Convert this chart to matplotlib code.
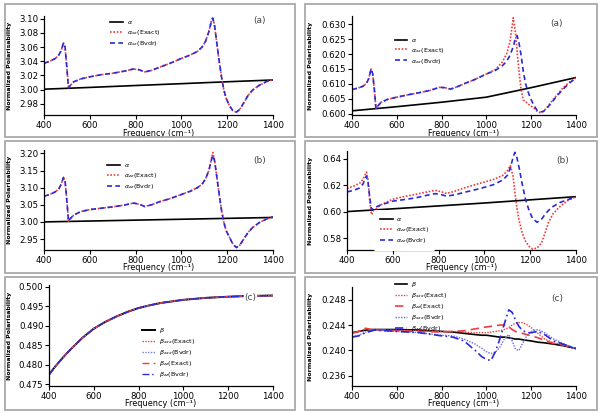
import matplotlib
matplotlib.use("Agg")
import matplotlib.pyplot as plt
from matplotlib.patches import Rectangle

# ---------------- data ----------------
x_lin = [400, 600, 800, 1000, 1200, 1400]

# panel (a) left : alpha_xx scale ~3.0
xa = [400, 425, 450, 465, 475, 485, 492, 500, 507, 515, 530, 560, 600, 650, 700, 750, 790, 815,
      840, 870, 900, 950, 1000, 1040, 1070, 1090, 1105, 1120, 1130, 1137, 1145, 1155, 1165, 1175,
      1185, 1195, 1210, 1225, 1240, 1255, 1270, 1290, 1310, 1340, 1370, 1400]
alpha_La = [3.0005, 3.003, 3.0057, 3.0083, 3.011, 3.0135]
axx_exact_La = [3.037, 3.040, 3.044, 3.049, 3.055, 3.066, 3.060, 3.030, 3.002, 3.006, 3.011, 3.015,
                3.018, 3.021, 3.023, 3.026, 3.029, 3.028, 3.025, 3.027, 3.031, 3.037, 3.044, 3.049,
                3.054, 3.060, 3.068, 3.082, 3.096, 3.102, 3.090, 3.065, 3.040, 3.018, 3.000, 2.988,
                2.977, 2.970, 2.968, 2.972, 2.980, 2.991, 2.999, 3.006, 3.011, 3.014]
axx_bvdr_La = [3.037, 3.040, 3.044, 3.049, 3.055, 3.066, 3.060, 3.030, 3.002, 3.006, 3.011, 3.015,
               3.018, 3.021, 3.023, 3.026, 3.029, 3.028, 3.025, 3.027, 3.031, 3.037, 3.044, 3.049,
               3.054, 3.060, 3.068, 3.082, 3.095, 3.101, 3.090, 3.065, 3.040, 3.018, 3.000, 2.988,
               2.977, 2.970, 2.968, 2.972, 2.980, 2.991, 2.999, 3.006, 3.011, 3.014]

# panel (b) left : alpha_zz scale ~3.0
alpha_Lb = [3.000, 3.0026, 3.0052, 3.0078, 3.0104, 3.013]
azz_exact_Lb = [3.075, 3.080, 3.088, 3.097, 3.110, 3.130, 3.120, 3.060, 3.002, 3.010, 3.020, 3.030,
                3.036, 3.040, 3.044, 3.049, 3.055, 3.052, 3.045, 3.050, 3.058, 3.068, 3.080, 3.090,
                3.100, 3.110, 3.125, 3.150, 3.180, 3.203, 3.180, 3.130, 3.080, 3.035, 3.000, 2.975,
                2.955, 2.935, 2.925, 2.932, 2.948, 2.968, 2.983, 2.998, 3.008, 3.015]
azz_bvdr_Lb = [3.075, 3.080, 3.088, 3.097, 3.110, 3.130, 3.120, 3.060, 3.002, 3.010, 3.020, 3.030,
               3.036, 3.040, 3.044, 3.049, 3.055, 3.052, 3.045, 3.050, 3.058, 3.068, 3.080, 3.090,
               3.100, 3.110, 3.125, 3.150, 3.178, 3.195, 3.178, 3.130, 3.080, 3.035, 3.000, 2.975,
               2.955, 2.935, 2.925, 2.932, 2.948, 2.968, 2.983, 2.998, 3.008, 3.015]

# panel (a) right : alpha_xx scale ~0.6
alpha_Ra = [0.6009, 0.6023, 0.6038, 0.6055, 0.6087, 0.6121]
axx_exact_Ra = [0.6081, 0.6085, 0.6092, 0.6102, 0.6118, 0.6150, 0.6135, 0.6080, 0.6015, 0.6025,
                0.6038, 0.6048, 0.6055, 0.6063, 0.6070, 0.6078, 0.6088, 0.6087, 0.6082, 0.6090,
                0.6100, 0.6115, 0.6133, 0.6148, 0.6172, 0.6200, 0.6240, 0.6322, 0.6270, 0.6210,
                0.6145, 0.6080, 0.6045, 0.6040, 0.6033, 0.6027, 0.6020, 0.6008, 0.6003, 0.6008,
                0.6020, 0.6040, 0.6058, 0.6085, 0.6105, 0.6120]
axx_bvdr_Ra = [0.6081, 0.6085, 0.6092, 0.6102, 0.6118, 0.6150, 0.6135, 0.6080, 0.6015, 0.6025,
               0.6038, 0.6048, 0.6055, 0.6063, 0.6070, 0.6078, 0.6088, 0.6087, 0.6082, 0.6090,
               0.6100, 0.6115, 0.6133, 0.6145, 0.6160, 0.6175, 0.6195, 0.6225, 0.6255, 0.6262,
               0.6240, 0.6195, 0.6140, 0.6100, 0.6075, 0.6055, 0.6030, 0.6012, 0.6005, 0.6007,
               0.6018, 0.6035, 0.6055, 0.6080, 0.6102, 0.6120]

# panel (b) right : alpha_zz scale ~0.6
xbr = [400, 430, 455, 470, 478, 485, 492, 500, 507, 520, 545, 600, 650, 700, 750, 785, 810, 835,
       870, 920, 980, 1040, 1080, 1100, 1113, 1125, 1133, 1142, 1152, 1165, 1180, 1195, 1210, 1230,
       1250, 1265, 1280, 1300, 1330, 1365, 1400]
alpha_Rb = [0.6001, 0.6022, 0.6044, 0.6066, 0.6090, 0.6114]
azz_exact_Rb = [0.6176, 0.6195, 0.6215, 0.6245, 0.6275, 0.6300, 0.6240, 0.6070, 0.5978, 0.6010,
                0.6050, 0.6095, 0.6115, 0.6132, 0.6150, 0.6162, 0.6152, 0.6138, 0.6155, 0.6185,
                0.6215, 0.6245, 0.6275, 0.6310, 0.6350, 0.6270, 0.6150, 0.6030, 0.5930, 0.5840,
                0.5775, 0.5738, 0.5718, 0.5725, 0.5765, 0.5840, 0.5920, 0.5985, 0.6040, 0.6085,
                0.6114]
azz_bvdr_Rb = [0.6150, 0.6162, 0.6180, 0.6210, 0.6245, 0.6270, 0.6220, 0.6100, 0.6015, 0.6030,
               0.6050, 0.6080, 0.6092, 0.6105, 0.6125, 0.6137, 0.6130, 0.6118, 0.6128, 0.6150,
               0.6175, 0.6205, 0.6240, 0.6275, 0.6330, 0.6410, 0.6450, 0.6410, 0.6330, 0.6210,
               0.6090, 0.6010, 0.5950, 0.5920, 0.5945, 0.5980, 0.6010, 0.6040, 0.6070, 0.6092,
               0.6114]

# panel (c) left : beta ~0.5
xcl = [400, 425, 450, 475, 500, 550, 600, 650, 700, 750, 800, 850, 900, 950, 1000, 1100, 1200,
       1300, 1400]
beta_Lc = [0.4774, 0.4793, 0.4810, 0.4826, 0.4841, 0.4869, 0.4892, 0.4909, 0.4923, 0.4935, 0.4945,
           0.4952, 0.4958, 0.4962, 0.4966, 0.4971, 0.4974, 0.4976, 0.4977]
bxxx_exact_Lc = beta_Lc
bxxx_bvdr_Lc = beta_Lc
bzz_exact_Lc = beta_Lc
bzz_bvdr_Lc = beta_Lc

# panel (c) right : beta ~0.24
xcr = [400, 430, 460, 500, 550, 600, 700, 800, 850, 900, 950, 980, 1000, 1020, 1040, 1060, 1080,
       1100, 1115, 1130, 1145, 1160, 1180, 1200, 1230, 1260, 1300, 1350, 1400]
beta_Rc = [0.2428, 0.2430, 0.2432, 0.2433, 0.2433, 0.2433, 0.2432, 0.2430, 0.2429, 0.2427, 0.2425,
           0.2424, 0.2424, 0.2423, 0.2422, 0.2421, 0.2421, 0.2420, 0.2419, 0.2418, 0.2418, 0.2417,
           0.2416, 0.2415, 0.2413, 0.2412, 0.2410, 0.2407, 0.2403]
bxxx_exact_Rc = [0.2427, 0.2430, 0.2434, 0.2433, 0.2432, 0.2432, 0.2431, 0.2430, 0.2430, 0.2429,
                 0.2428, 0.2428, 0.2428, 0.2429, 0.2430, 0.2431, 0.2433, 0.2436, 0.2440, 0.2443,
                 0.2444, 0.2444, 0.2441, 0.2436, 0.2427, 0.2418, 0.2412, 0.2409, 0.2403]
bzz_exact_Rc = [0.2427, 0.2430, 0.2435, 0.2432, 0.2432, 0.2431, 0.2430, 0.2429, 0.2430, 0.2431,
                0.2434, 0.2436, 0.2437, 0.2438, 0.2439, 0.2440, 0.2440, 0.2437, 0.2433, 0.2430,
                0.2428, 0.2427, 0.2425, 0.2423, 0.2420, 0.2416, 0.2411, 0.2408, 0.2403]
bxxx_bvdr_Rc = [0.2422, 0.2424, 0.2429, 0.2432, 0.2431, 0.2430, 0.2428, 0.2424, 0.2423, 0.2418,
                0.2410, 0.2403, 0.2398, 0.2395, 0.2397, 0.2405, 0.2418, 0.2425, 0.2415, 0.2402,
                0.2400, 0.2410, 0.2423, 0.2430, 0.2433, 0.2428, 0.2418, 0.2410, 0.2403]
bzz_bvdr_Rc = [0.2421, 0.2423, 0.2428, 0.2432, 0.2431, 0.2430, 0.2428, 0.2423, 0.2421, 0.2415,
               0.2400, 0.2390, 0.2386, 0.2384, 0.2398, 0.2418, 0.2442, 0.2464, 0.2460, 0.2448,
               0.2438, 0.2432, 0.2428, 0.2428, 0.2430, 0.2425, 0.2415, 0.2409, 0.2403]

xticks = [400, 600, 800, 1000, 1200, 1400]

# ---------------- styling ----------------
W, H = 601, 413
fig = plt.figure(figsize=(W / 100, H / 100), dpi=100)
fig.patch.set_facecolor("white")

RED = "#f03c3c"
BLUE = "#2a2ad8"
DOT = (0, (1, 1))
DASH = (0, (3, 2))
LDASH = (0, (5, 3))
DASHDOT = (0, (5, 2, 1, 2))
TICKFS = 6.2
LEGFS = 4.6


def add_axes(x0, x1, ytop, ybot):
    ax = fig.add_axes([x0 / W, 1 - ybot / H, (x1 - x0) / W, (ybot - ytop) / H])
    ax._px = (x0, x1, ytop, ybot)
    return ax


def style(ax, ylim, yticks, yfmt, tag, tagpos, ylab_px, tagbox=False):
    x0, x1, ytop, ybot = ax._px
    ax.set_xlim(400, 1400)
    ax.set_ylim(*ylim)
    ax.set_xticks(xticks)
    ax.set_yticks(yticks)
    ax.set_yticklabels([yfmt.format(v) for v in yticks])
    for s in ("top", "right"):
        ax.spines[s].set_visible(False)
    for s in ("left", "bottom"):
        ax.spines[s].set_linewidth(0.9)
    ax.tick_params(direction="out", length=3, width=0.8, labelsize=TICKFS, pad=1)
    ax.set_xlabel("Frequency (cm\u207b\u00b9)", fontsize=5.9)
    ax.xaxis.set_label_coords(0.5, -13.5 / (ybot - ytop))
    ax.set_ylabel("Normalized Polarisability", fontsize=4.5, fontweight="bold")
    ax.yaxis.set_label_coords((ylab_px - x0) / (x1 - x0), 0.5)
    ax.patch.set_alpha(0)
    kw = {}
    if tagbox:
        kw["bbox"] = dict(fc="white", ec="none", pad=0.6)
    ax.text(tagpos[0], tagpos[1], tag, transform=ax.transAxes, fontsize=6.5,
            color="#444444", ha="center", va="center", zorder=6, **kw)


def legend(ax, anchor, **kw):
    opts = dict(loc="upper left", bbox_to_anchor=anchor, frameon=False, fontsize=LEGFS,
                handlelength=2.0, handletextpad=0.6, labelspacing=0.3, borderpad=0,
                borderaxespad=0)
    opts.update(kw)
    return ax.legend(**opts)


def border(x0, x1, y0, y1):
    fig.add_artist(Rectangle((x0 / W, 1 - y1 / H), (x1 - x0) / W, (y1 - y0) / H,
                             transform=fig.transFigure, fill=False, ec="#a9a9a9", lw=1.3))


for (c0, c1) in [(5, 295), (305, 597)]:
    for (r0, r1) in [(4, 137), (141, 273), (277, 410)]:
        border(c0, c1, r0, r1)

lab_a = r"$\alpha$"
lab_axx_e = r"$\alpha_{xx}$(Exact)"
lab_axx_b = r"$\alpha_{xx}$(Bvdr)"
lab_azz_e = r"$\alpha_{zz}$(Exact)"
lab_azz_b = r"$\alpha_{zz}$(Bvdr)"
lab_b = r"$\beta$"
lab_bxxx_e = r"$\beta_{xxx}$(Exact)"
lab_bxxx_b = r"$\beta_{xxx}$(Bvdr)"
lab_bzz_e = r"$\beta_{zz}$(Exact)"
lab_bzz_b = r"$\beta_{zz}$(Bvdr)"

# ---- left (a)
ax = add_axes(44, 273, 16, 115)
ax.plot(x_lin, alpha_La, color="black", lw=1.2, label=lab_a)
ax.plot(xa, axx_exact_La, color=RED, lw=1.2, ls=DOT, label=lab_axx_e)
ax.plot(xa, axx_bvdr_La, color=BLUE, lw=1.2, ls=DASH, label=lab_axx_b)
style(ax, (2.964, 3.104), [2.98, 3.00, 3.02, 3.04, 3.06, 3.08, 3.10], "{:.2f}", "(a)",
      (0.94, 0.95), 12)
legend(ax, (0.29, 0.97))

# ---- right (a)
ax = add_axes(352, 576, 16, 115)
ax.plot(x_lin, alpha_Ra, color="black", lw=1.2, label=lab_a)
ax.plot(xa, axx_exact_Ra, color=RED, lw=1.2, ls=DOT, label=lab_axx_e)
ax.plot(xa, axx_bvdr_Ra, color=BLUE, lw=1.2, ls=DASH, label=lab_axx_b)
style(ax, (0.5995, 0.6328), [0.600, 0.605, 0.610, 0.615, 0.620, 0.625, 0.630], "{:.3f}", "(a)",
      (0.915, 0.92), 313)
legend(ax, (0.19, 0.79))

# ---- left (b)
ax = add_axes(44, 273, 150, 250)
ax.plot(x_lin, alpha_Lb, color="black", lw=1.2, label=lab_a)
ax.plot(xa, azz_exact_Lb, color=RED, lw=1.2, ls=DOT, label=lab_azz_e)
ax.plot(xa, azz_bvdr_Lb, color=BLUE, lw=1.2, ls=DASH, label=lab_azz_b)
style(ax, (2.918, 3.21), [2.95, 3.00, 3.05, 3.10, 3.15, 3.20], "{:.2f}", "(b)", (0.94, 0.9), 12)
legend(ax, (0.275, 0.88))

# ---- right (b)
ax = add_axes(347, 576, 151, 250)
ax.plot(x_lin, alpha_Rb, color="black", lw=1.2, label=lab_a)
ax.plot(xbr, azz_exact_Rb, color=RED, lw=1.2, ls=DOT, label=lab_azz_e)
ax.plot(xbr, azz_bvdr_Rb, color=BLUE, lw=1.2, ls=DASH, label=lab_azz_b)
style(ax, (0.571, 0.646), [0.58, 0.60, 0.62, 0.64], "{:.2f}", "(b)", (0.94, 0.9), 313)
lg = legend(ax, (0.118, 0.40), frameon=True, borderpad=0.9)
lg.get_frame().set_facecolor("white")
lg.get_frame().set_edgecolor("none")
lg.get_frame().set_alpha(1)

# ---- left (c)
ax = add_axes(49, 273, 285, 386)
ax.plot(xcl, beta_Lc, color="black", lw=1.4, label=lab_b)
ax.plot(xcl, bxxx_exact_Lc, color=RED, lw=1.0, ls=DOT, label=lab_bxxx_e)
ax.plot(xcl, bxxx_bvdr_Lc, color="#7a7af0", lw=1.0, ls=DOT, label=lab_bxxx_b)
ax.plot(xcl, bzz_exact_Lc, color=RED, lw=1.0, ls=LDASH, label=lab_bzz_e)
ax.plot(xcl, bzz_bvdr_Lc, color=BLUE, lw=1.0, ls=DASHDOT, label=lab_bzz_b)
style(ax, (0.4745, 0.5004), [0.475, 0.480, 0.485, 0.490, 0.495, 0.500], "{:.3f}", "(c)",
      (0.9, 0.88), 12, tagbox=True)
legend(ax, (0.415, 0.59))

# ---- right (c)
ax = add_axes(352, 576, 287, 386)
ax.plot(xcr, beta_Rc, color="black", lw=1.2, label=lab_b)
ax.plot(xcr, bxxx_exact_Rc, color=RED, lw=1.0, ls=DOT, label=lab_bxxx_e)
ax.plot(xcr, bzz_exact_Rc, color=RED, lw=1.2, ls=LDASH, label=lab_bzz_e)
ax.plot(xcr, bxxx_bvdr_Rc, color="#6a6ae8", lw=1.0, ls=DOT, label=lab_bxxx_b)
ax.plot(xcr, bzz_bvdr_Rc, color=BLUE, lw=1.2, ls=DASHDOT, label=lab_bzz_b)
style(ax, (0.2344, 0.2500), [0.236, 0.240, 0.244, 0.248], "{:.3f}", "(c)", (0.915, 0.88), 313)
legend(ax, (0.19, 1.07))

fig.savefig("out.png", dpi=100)
